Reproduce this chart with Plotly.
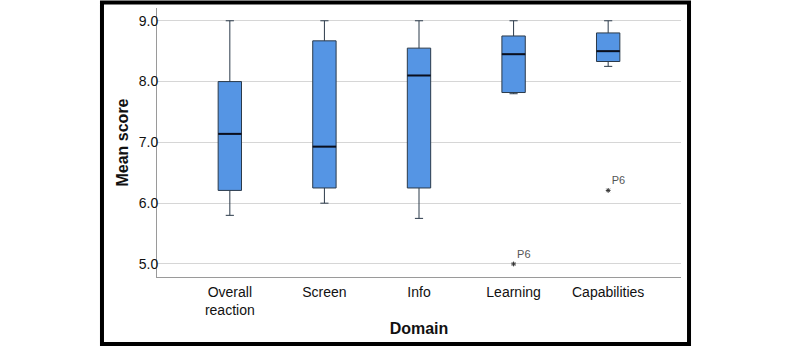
import plotly.graph_objects as go

categories = ["Overall<br>reaction", "Screen", "Info", "Learning", "Capabilities"]
upper = [9.0, 9.0, 9.0, 9.0, 9.0]
q3 = [8.0, 8.67, 8.55, 8.75, 8.8]
median = [7.14, 6.93, 8.1, 8.45, 8.5]
q1 = [6.21, 6.25, 6.25, 7.82, 8.33]
lower = [5.8, 6.0, 5.75, 7.8, 8.25]
outlier_cat = [3, 4]
outlier_val = [5.0, 6.21]
outlier_lab = ["P6", "P6"]
yticks = [5.0, 6.0, 7.0, 8.0, 9.0]

pos = list(range(len(categories)))
bw = 0.247

fig = go.Figure()
fig.add_trace(go.Box(
    x=pos, q1=q1, median=median, q3=q3, lowerfence=lower, upperfence=upper,
    width=bw, whiskerwidth=0.35, fillcolor="#5595e4",
    line=dict(color="#2b3a4a", width=1), boxpoints=False, hoverinfo="skip",
    showlegend=False,
))
mx, my = [], []
for i, m in zip(pos, median):
    mx += [i - bw / 2, i + bw / 2, None]
    my += [m, m, None]
fig.add_trace(go.Scatter(x=mx, y=my, mode="lines", line=dict(color="#0a0f1e", width=2),
                         showlegend=False, hoverinfo="skip"))
fig.add_trace(go.Scatter(
    x=outlier_cat, y=outlier_val, mode="markers+text", text=outlier_lab,
    textposition="top right", textfont=dict(size=11, color="#555555", family="Liberation Sans"),
    marker=dict(symbol="asterisk-open", size=4, color="#333333", line=dict(width=1, color="#333333")),
    showlegend=False, hoverinfo="skip",
))

fig.update_layout(
    width=792, height=347,
    margin=dict(l=157, r=111, t=8, b=70),
    paper_bgcolor="white", plot_bgcolor="white",
    font=dict(family="Liberation Sans, Arial, sans-serif", size=14, color="#111111"),
    xaxis=dict(range=[-0.77, 4.77], tickvals=pos, ticktext=categories,
               showgrid=False, zeroline=False, showline=True, linecolor="#9a9a9a", linewidth=1,
               ticks="outside", ticklen=2, tickcolor="rgba(0,0,0,0)", tickfont=dict(size=14),
               title=dict(text="<b>Domain</b>", font=dict(size=16), standoff=5)),
    yaxis=dict(range=[4.786, 9.21], tickvals=yticks, ticktext=[f"{v:.1f}" for v in yticks],
               showgrid=True, gridcolor="#d6d6d6", gridwidth=1, zeroline=False,
               showline=True, linecolor="#9a9a9a", linewidth=1, ticks="",
               ticklabelstandoff=-5,
               tickfont=dict(size=14),
               title=dict(text="<b>Mean score</b>", font=dict(size=16), standoff=6)),
    shapes=[dict(type="rect", xref="paper", yref="paper",
                 x0=-0.105, x1=1.0153, y0=-0.249, y1=1.0204,
                 line=dict(color="black", width=4), fillcolor="rgba(0,0,0,0)", layer="above")],
)

fig.write_html("out.html", config={"displayModeBar": False},
               post_script="document.body.style.margin='0px';")
